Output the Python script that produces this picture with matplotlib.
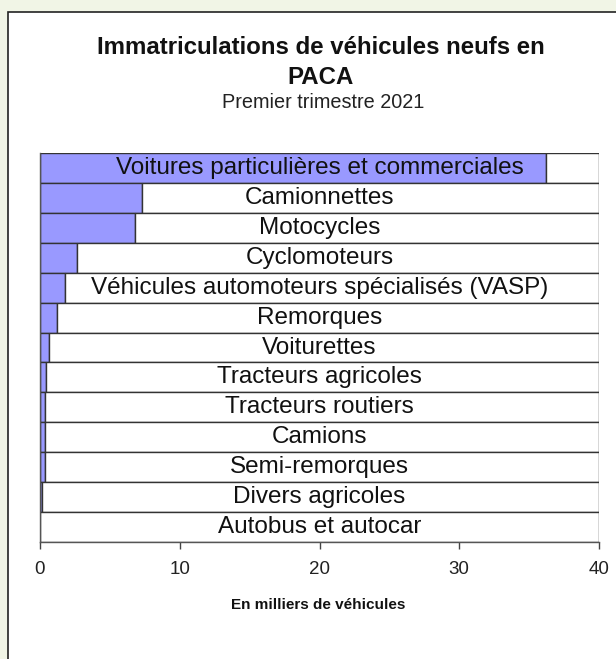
import matplotlib
matplotlib.use("Agg")
import matplotlib.pyplot as plt
from matplotlib.patches import Rectangle
import matplotlib.transforms as mtransforms

categories = [
    "Voitures particulières et commerciales",
    "Camionnettes",
    "Motocycles",
    "Cyclomoteurs",
    "Véhicules automoteurs spécialisés (VASP)",
    "Remorques",
    "Voiturettes",
    "Tracteurs agricoles",
    "Tracteurs routiers",
    "Camions",
    "Semi-remorques",
    "Divers agricoles",
    "Autobus et autocar",
]
values = [36.2, 7.28, 6.82, 2.65, 1.77, 1.22, 0.62, 0.43, 0.33, 0.33, 0.33, 0.17, 0.02]
x_ticks = [0, 10, 20, 30, 40]
x_max = 40

FONT = "Liberation Sans"

fig = plt.figure(figsize=(6.16, 6.59), dpi=100)
fig.patch.set_facecolor("#F1F5E6")
panel = Rectangle((8 / 616, -0.05), 1.1, 1 - 12 / 659 + 0.05, transform=fig.transFigure,
                  facecolor="white", edgecolor="#222222", linewidth=1.2, zorder=-5)
fig.patches.append(panel)

ax = fig.add_axes([40 / 616, 1 - 541.7 / 659, 559 / 616, (541.7 - 153.3) / 659])
ax.set_zorder(2)
ax.set_facecolor("none")

ypos = list(range(len(categories)))
remainder = [x_max - v for v in values]
ax.barh(ypos, values, height=1.0, color="#9999FF", edgecolor="#333333", linewidth=1.0, zorder=2)
ax.barh(ypos, remainder, left=values, height=1.0, color="white", edgecolor="#333333",
        linewidth=1.0, zorder=2)

trans = mtransforms.blended_transform_factory(ax.transAxes, ax.transData)
for y, name in zip(ypos, categories):
    ax.text(0.5, y, name, transform=trans, ha="center", va="center",
            fontsize=17.5, family=FONT, color="#111111", zorder=3)

ax.set_xlim(0, x_max)
ax.set_ylim(len(categories) - 0.5, -0.5)
ax.set_xticks(x_ticks)
ax.set_xticklabels([str(t) for t in x_ticks], family=FONT, fontsize=13.5, color="#222222")
ax.set_yticks([])
for s in ["top", "right"]:
    ax.spines[s].set_visible(False)
for s in ["left", "bottom"]:
    ax.spines[s].set_color("#555555")
    ax.spines[s].set_linewidth(1.0)
ax.tick_params(axis="x", direction="out", length=5, width=1, color="#444444", pad=9)

fig.text(321 / 616, 1 - 47 / 659, "Immatriculations de véhicules neufs en", ha="center", va="center",
         fontsize=17.3, fontweight="bold", family=FONT, color="#111111")
fig.text(321 / 616, 1 - 78 / 659, "PACA", ha="center", va="center",
         fontsize=17.3, fontweight="bold", family=FONT, color="#111111")
fig.text(323 / 616, 1 - 103 / 659, "Premier trimestre 2021", ha="center", va="center",
         fontsize=14.3, family=FONT, color="#222222")
fig.text(318 / 616, 1 - 605 / 659, "En milliers de véhicules", ha="center", va="center",
         fontsize=11, fontweight="bold", family=FONT, color="#111111")

fig.savefig("out.png", dpi=100, facecolor=fig.get_facecolor())
